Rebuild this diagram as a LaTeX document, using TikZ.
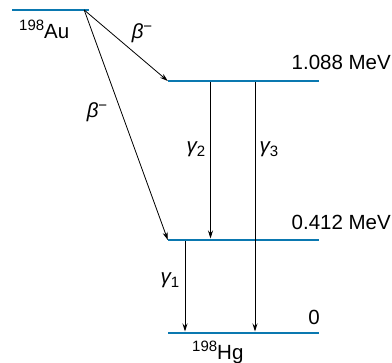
\documentclass[tikz,border=0pt]{standalone}
\usepackage{fontspec}
\setmainfont{Liberation Sans}
\usetikzlibrary{arrows.meta,positioning}
\definecolor{lvlblue}{HTML}{0A78B0}
\newcommand{\isotope}[2]{\raisebox{8pt}{\fontsize{15}{15}\selectfont #1}#2}
\newcommand{\sbs}[1]{\raisebox{-4pt}{\upshape\fontsize{15}{15}\selectfont #1}}
\newcommand{\sps}[1]{\raisebox{7pt}{\upshape\fontsize{15}{15}\selectfont #1}}

\begin{document}
\begin{tikzpicture}[x=1pt, y=-1pt,
      lvl/.style={fill=lvlblue, inner sep=0pt, minimum height=2.6pt,
                  minimum width=151pt},
      arr/.style={-{Stealth[length=8pt, width=5pt]}, line width=0.8pt},
      lbl/.style={font=\fontsize{20.5}{22}\selectfont, inner sep=0pt}]
    \useasboundingbox (0,0) rectangle (392,363);
    % energy levels
    \node[lvl, minimum width=77pt] (au) at (50.5,10) {};
    \node[lvl] (e1088) at (243.5,81) {};
    \node[lvl] (e412) at (243.5,240) {};
    \node[lvl] (e0) at (243.5,333) {};
    \coordinate (start) at ([xshift=-5pt]au.east);
    % level labels
    \node[lbl, anchor=base west] (aulab) at (19,39) {\isotope{198}{Au}};
    \node[lbl, anchor=base east] (lab1088) at (391,70) {1.088 MeV};
    \node[lbl, anchor=base east] (lab412) at (391,230) {0.412 MeV};
    \node[lbl, anchor=base east] (lab0) at (320,325) {0};
    \node[lbl, anchor=base west] (hglab) at (192,360) {\isotope{198}{Hg}};
    % transitions
    \draw[arr] (start) -- (e1088.west);
    \draw[arr] (start) -- (e412.west);
    \draw[arr] ([xshift=-33pt]e1088.south) -- ([xshift=-33pt]e412.north);
    \draw[arr] ([xshift=11.5pt]e1088.south) -- ([xshift=11.5pt]e0.north);
    \draw[arr] ([xshift=-58.5pt]e412.south) -- ([xshift=-58.5pt]e0.north);
    \node[lbl] (b1) at (142,33) {\itshape β\sps{−}};
    \node[lbl] (b2) at (97,112) {\itshape β\sps{−}};
    \node[lbl] (g2) at (196,149) {\itshape γ\sbs{2}};
    \node[lbl] (g3) at (269,149) {\itshape γ\sbs{3}};
    \node[lbl] (g1) at (170,280) {\itshape γ\sbs{1}};
  \end{tikzpicture}
\end{document}
